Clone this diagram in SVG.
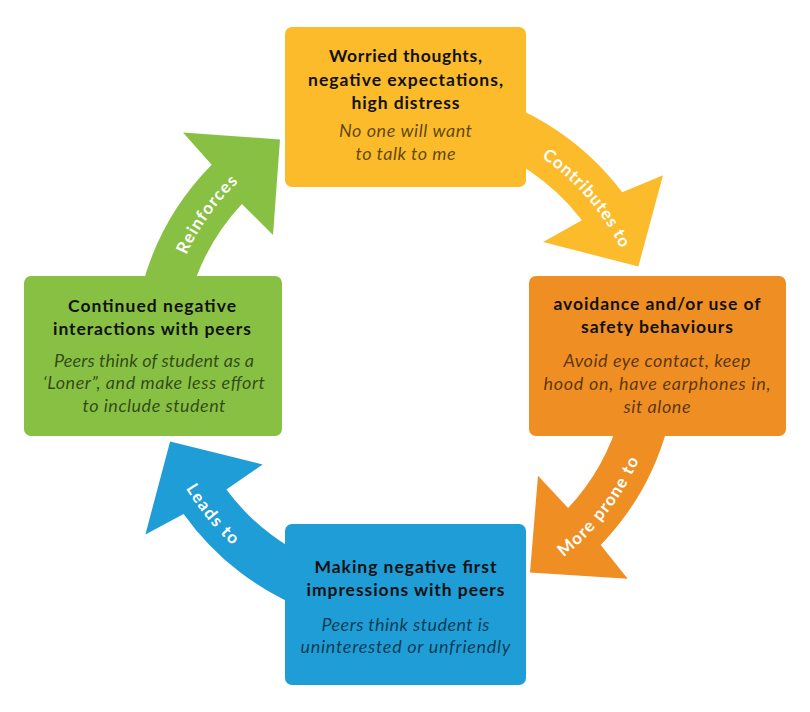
<svg xmlns="http://www.w3.org/2000/svg" width="810" height="712" viewBox="0 0 810 712">
<style>
.t{font-family:Lato,"Liberation Sans",sans-serif;font-weight:700;font-size:17.5px;fill:#111;text-anchor:middle}
.i{font-family:Lato,"Liberation Sans",sans-serif;font-style:italic;font-size:18px;fill:#000;fill-opacity:0.64;text-anchor:middle}
.lbl{font-family:Lato,"Liberation Sans",sans-serif;font-weight:700;font-size:17px;fill:#fff}
.y{fill:#FBBB2A}.o{fill:#EF8E23}.b{fill:#1F9DD7}.g{fill:#88C043}
</style>
<defs>
<path id="py" d="M483.5,128.1 A241,241 0 0 1 641.6,310.0"/>
<path id="po" d="M501.3,593.2 A256,256 0 0 0 658.6,391.2"/>
<path id="pb" d="M152.4,397.8 A256,256 0 0 0 314.9,595.6"/>
<path id="pg" d="M165.1,332.9 A241,241 0 0 1 305.1,136.7"/>
</defs>
<rect width="810" height="712" fill="#fff"/>
<g id="connectors">
<path class="y" d="M475.4,93.3 A272,272 0 0 1 622.2,192.3 L663,175.3 L638.4,266.4 L543.1,242.1 L581.9,220.2 A223,223 0 0 0 462.7,140.6 Z"/>
<path class="o" d="M667.7,426.4 A272,272 0 0 1 600.7,544.9 L627.7,578.7 L530,572.5 L538,475.8 L568.1,508.1 A223,223 0 0 0 620.4,413.7 Z"/>
<path class="b" d="M312,611.6 A272,272 0 0 1 183.6,513.9 L145.4,534.4 L170.1,441.5 L262.6,464.5 L226.4,489.6 A223,223 0 0 0 328.7,565.6 Z"/>
<path class="g" d="M142.3,285.6 A272,272 0 0 1 211.7,164.7 L183,132.5 L280,139.5 L273,235.1 L241.9,203.9 A223,223 0 0 0 189.6,298.3 Z"/>
<text class="lbl" text-anchor="middle"><textPath href="#py" startOffset="50%" textLength="122">Contributes to</textPath></text>
<text class="lbl" text-anchor="middle"><textPath href="#po" startOffset="50%" textLength="124">More prone to</textPath></text>
<text class="lbl" text-anchor="middle"><textPath href="#pb" startOffset="50%" textLength="74">Leads to</textPath></text>
<text class="lbl" text-anchor="middle"><textPath href="#pg" startOffset="50%" textLength="90">Reinforces</textPath></text>
</g>
<g id="node-worried">
<rect class="y" x="285" y="27" width="241" height="160" rx="7"/>
<text class="t" x="405.5" y="62" textLength="153">Worried thoughts,</text>
<text class="t" x="405.5" y="86" textLength="195">negative expectations,</text>
<text class="t" x="405.5" y="109" textLength="108">high distress</text>
<text class="i" x="405.5" y="137" textLength="133">No one will want</text>
<text class="i" x="405.5" y="160" textLength="100">to talk to me</text>
</g>
<g id="node-avoidance">
<rect class="o" x="529" y="276" width="257" height="160" rx="7"/>
<text class="t" x="657" y="310" textLength="207">avoidance and/or use of</text>
<text class="t" x="657" y="333" textLength="152">safety behaviours</text>
<text class="i" x="657" y="367" textLength="187">Avoid eye contact, keep</text>
<text class="i" x="657" y="390" textLength="227">hood on, have earphones in,</text>
<text class="i" x="657" y="413" textLength="67">sit alone</text>
</g>
<g id="node-impressions">
<rect class="b" x="285" y="524" width="241" height="161" rx="7"/>
<text class="t" x="405.5" y="573" textLength="182">Making negative first</text>
<text class="t" x="405.5" y="596" textLength="198">impressions with peers</text>
<text class="i" x="405.5" y="631" textLength="168">Peers think student is</text>
<text class="i" x="405.5" y="653" textLength="210">uninterested or unfriendly</text>
</g>
<g id="node-continued">
<rect class="g" x="24" y="276" width="258" height="160" rx="7"/>
<text class="t" x="152" y="312" textLength="168">Continued negative</text>
<text class="t" x="152" y="335" textLength="198">interactions with peers</text>
<text class="i" x="154" y="367" textLength="200">Peers think of student as a</text>
<text class="i" x="154" y="389" textLength="222">‘Loner”, and make less effort</text>
<text class="i" x="154" y="412" textLength="143">to include student</text>
</g>
</svg>
